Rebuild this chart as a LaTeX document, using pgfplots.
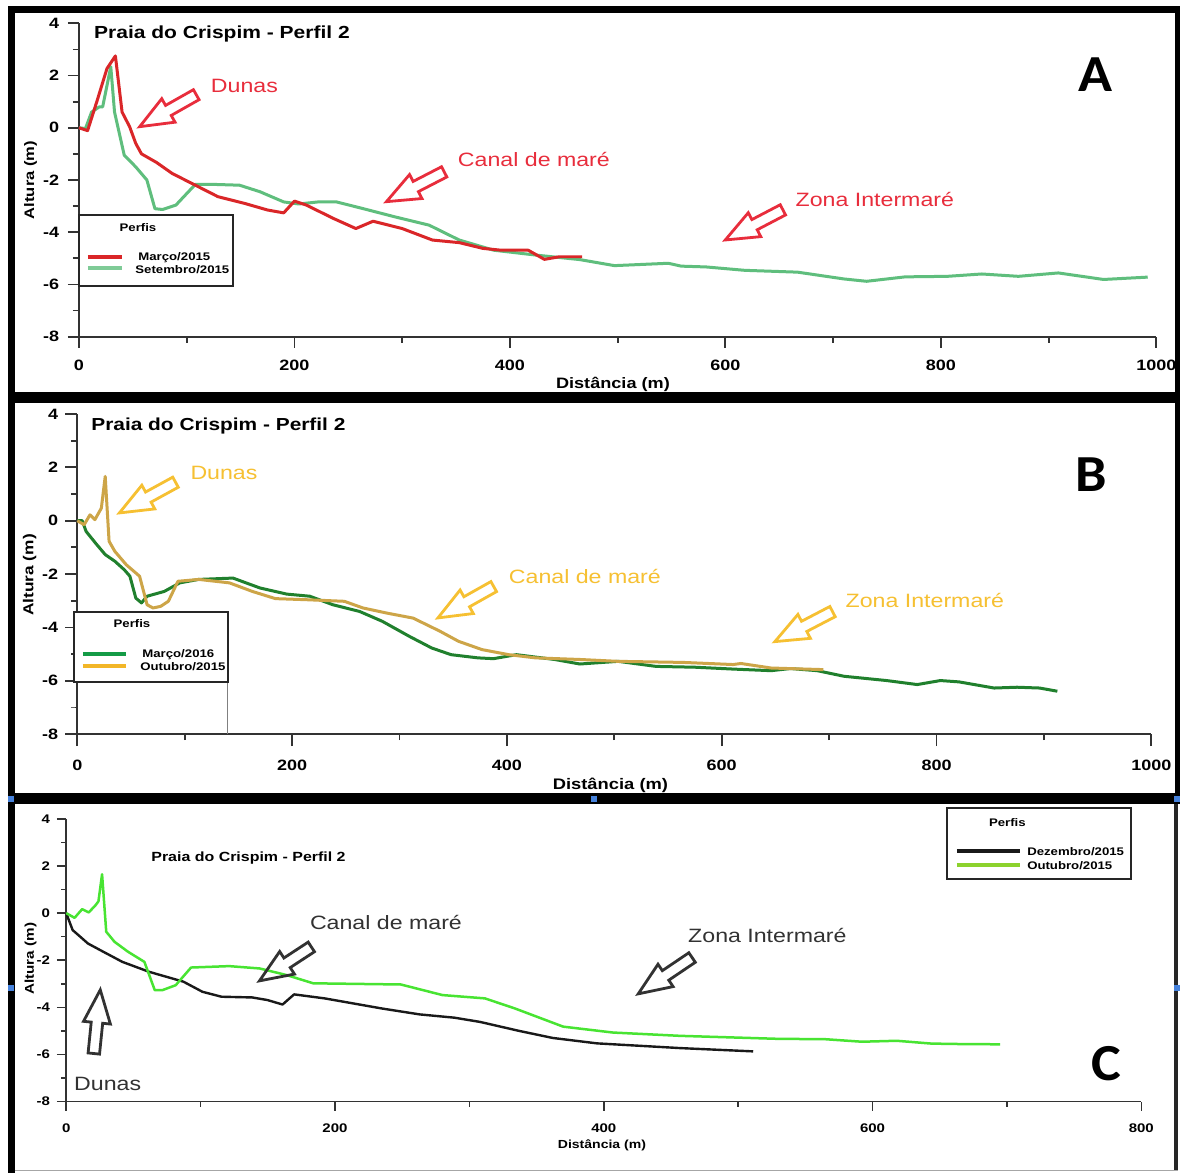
\documentclass[border=0pt]{standalone}
\usepackage{pgfplots}
\pgfplotsset{compat=1.18}
\usepackage{fontspec}
\setmainfont{Liberation Sans}[FakeStretch=1.2]
\newfontfamily\letterfont{Carlito}[FakeStretch=1.08]

\definecolor{redA}{RGB}{218,38,40}
\definecolor{greenA}{RGB}{95,190,125}
\definecolor{redtxt}{RGB}{232,45,60}
\definecolor{greenB}{RGB}{32,128,45}
\definecolor{greenBleg}{RGB}{20,155,70}
\definecolor{goldB}{RGB}{205,165,72}
\definecolor{goldBleg}{RGB}{242,182,40}
\definecolor{goldtxt}{RGB}{246,192,50}
\definecolor{greenC}{RGB}{72,228,50}
\definecolor{greenCleg}{RGB}{140,210,45}
\definecolor{blackC}{RGB}{25,25,25}
\definecolor{graytxt}{RGB}{50,50,50}
\definecolor{handle}{RGB}{70,130,220}

\newcommand{\fs}[1]{\fontsize{#1pt}{#1pt}\selectfont}
% block arrow: color, tip x, tip y (px), angle, length (px)
\newcommand{\barrow}[5]{%
  \begin{scope}[shift={(#2,#3)}, rotate=#4]
    \draw[#1, line width=1.4pt, line join=miter]
      (0,0) -- (-33,13.5) -- (-33,5.75) -- (-#5,5.75) -- (-#5,-5.75)
      -- (-33,-5.75) -- (-33,-13.5) -- cycle;
  \end{scope}}

\pgfplotsset{
  panel/.style={
    scale only axis, enlargelimits=false, clip=false,
    axis x line*=bottom, axis y line*=left,
    axis line style={line width=0.9pt, draw=black!80},
    tick style={line width=0.9pt, black!80},
    tick align=outside, major tick length=5.5pt, minor tick length=3pt,
    ymin=-8, ymax=4, ytick={-8,-6,-4,-2,0,2,4}, yticklabels={-8,-6,-4,-2,0,2,4},
    minor ytick={-7,-5,-3,-1,1,3},
    /pgf/number format/assume math mode=true,
    every axis plot/.append style={line join=round, no marks},
  }}

\begin{document}
\begin{tikzpicture}
\begin{scope}[x=0.5pt,y=-0.5pt]
  \path[use as bounding box] (0,0) rectangle (1183,1173);
  \fill[white] (0,0) rectangle (1183,1173);
\end{scope}

% ---------------- Panel A ----------------
\begin{axis}[panel,
  at={(39.5pt,-168.35pt)}, anchor=south west,
  width=538.75pt, height=156.7pt,
  xmin=0, xmax=1000, xtick={0,200,400,600,800,1000},
  xticklabels={0,200,400,600,800,1000}, minor xtick={100,300,500,700,900},
  tick label style={font=\bfseries\fs{7.5}},
  xticklabel style={yshift=-2.65pt},
  yticklabel style={xshift=-0.9pt},
  xlabel={Distância (m)}, ylabel={Altura (m)},
  every axis x label/.style={at={(axis description cs:0.4956,-0.152)}, anchor=center, font=\bfseries\fs{7.55}},
  every axis y label/.style={at={(axis description cs:-0.0449,0.5)}, rotate=90, anchor=center, font=\bfseries\fs{6.9}},
]
\addplot[greenA, line width=1.5pt] coordinates {
(0,0) (6,-0.03) (11.7,0.6) (18.9,0.8) (22,0.8) (29.5,2.34) (33,0.6) (42,-1.05)
(52.7,-1.5) (63,-2.0) (70.5,-3.1) (77.6,-3.13) (90,-2.96) (108,-2.17) (125.6,-2.17)
(149,-2.2) (168,-2.45) (190,-2.84) (204,-2.92) (222,-2.84) (239,-2.84) (264,-3.1)
(293,-3.41) (325,-3.73) (353,-4.3) (385,-4.69) (425,-4.88) (465,-5.05) (497,-5.28)
(547,-5.19) (559,-5.3) (582,-5.33) (618,-5.46) (667,-5.53) (710,-5.79) (731,-5.88)
(767,-5.71) (806,-5.69) (838,-5.6) (872,-5.69) (909,-5.56) (951,-5.81) (992,-5.72)};
\addplot[redA, line width=1.5pt] coordinates {
(0,0) (8,-0.11) (17,1.06) (26,2.27) (33.8,2.75) (40,0.6) (47,0.04) (52.7,-0.6)
(58,-1.0) (72,-1.33) (86.5,-1.75) (108,-2.2) (129,-2.64) (154,-2.9) (175,-3.15)
(190,-3.26) (200,-2.81) (211,-2.96) (236,-3.47) (257,-3.86) (273,-3.58) (300,-3.86)
(328,-4.3) (353,-4.4) (375,-4.62) (392,-4.69) (417,-4.69) (432,-5.04) (446,-4.94) (467,-4.94)};
\end{axis}

% ---------------- Panel B ----------------
\begin{axis}[panel,
  at={(38.65pt,-367.15pt)}, anchor=south west,
  width=537.1pt, height=160.15pt,
  major tick length=6pt,
  xmin=0, xmax=1000, xtick={0,200,400,600,800,1000},
  xticklabels={0,200,400,600,800,1000}, minor xtick={100,300,500,700,900},
  tick label style={font=\bfseries\fs{7.5}},
  xticklabel style={yshift=-3.35pt},
  xlabel={Distância (m)}, ylabel={Altura (m)},
  every axis x label/.style={at={(axis description cs:0.4964,-0.1583)}, anchor=center, font=\bfseries\fs{7.65}},
  every axis y label/.style={at={(axis description cs:-0.0443,0.4974)}, rotate=90, anchor=center, font=\bfseries\fs{7.2}},
]
\addplot[greenB, line width=1.5pt] coordinates {
(0,0) (4.6,0) (8.2,-0.4) (17,-0.84) (26,-1.27) (35,-1.52) (43.8,-1.84) (49,-2.08)
(54.5,-2.9) (59.8,-3.08) (65,-2.83) (81,-2.65) (95.4,-2.33) (113,-2.2) (145,-2.15)
(170,-2.52) (195,-2.75) (216.5,-2.83) (238,-3.15) (262.8,-3.4) (284,-3.77) (309,-4.33)
(330,-4.77) (348,-5.02) (373,-5.14) (387.5,-5.17) (408.8,-5.02) (444.4,-5.2) (467.9,-5.37)
(503.6,-5.27) (539,-5.46) (575,-5.49) (610.7,-5.56) (646,-5.62) (664,-5.54) (689,-5.62)
(714,-5.83) (753.6,-5.99) (782,-6.14) (803.6,-5.99) (821,-6.04) (853.6,-6.27) (875,-6.24)
(896,-6.27) (912.5,-6.39)};
\addplot[goldB, line width=1.5pt] coordinates {
(0,0) (6.4,-0.15) (11.8,0.22) (16.4,0.04) (22.4,0.47) (26,1.66) (29.6,-0.77) (35,-1.15)
(45.6,-1.65) (58,-2.08) (65,-3.15) (70.5,-3.27) (77.6,-3.21) (84.8,-3.02) (93.7,-2.27)
(113,-2.2) (141.7,-2.33) (163,-2.65) (184.5,-2.92) (213,-2.96) (248.6,-3.02) (266,-3.27)
(288,-3.46) (312.7,-3.65) (337.6,-4.14) (355,-4.52) (376.8,-4.83) (401.7,-5.02) (426.6,-5.14)
(468,-5.2) (503.6,-5.27) (564,-5.31) (610.7,-5.39) (617.8,-5.35) (646,-5.52) (694.6,-5.58)};
\end{axis}

% ---------------- Panel C ----------------
\begin{axis}[panel,
  at={(33.1pt,-550.85pt)}, anchor=south west,
  width=537.65pt, height=141.35pt,
  major tick length=4.6pt, minor tick length=2.5pt,
  axis line style={line width=0.8pt, draw=black!80},
  tick style={line width=0.8pt, black!80},
  xmin=0, xmax=800, xtick={0,200,400,600,800},
  xticklabels={0,200,400,600,800}, minor xtick={100,300,500,700},
  tick label style={font=\bfseries\fs{6.25}},
  xticklabel style={yshift=-3.07pt},
  xlabel={Distância (m)}, ylabel={Altura (m)},
  every axis x label/.style={at={(axis description cs:0.4983,-0.1532)}, anchor=center, font=\bfseries\fs{5.85}},
  every axis y label/.style={at={(axis description cs:-0.0331,0.5048)}, rotate=90, anchor=center, font=\bfseries\fs{6.35}},
]
\addplot[blackC, line width=1.2pt] coordinates {
(0,0) (4.8,-0.72) (16.2,-1.29) (27.6,-1.64) (41.8,-2.07) (61.6,-2.49) (87.2,-2.91)
(101.4,-3.34) (115.6,-3.55) (138.4,-3.58) (149.7,-3.69) (161,-3.88) (169.6,-3.45)
(192.3,-3.62) (235,-4.05) (263,-4.3) (289,-4.44) (308,-4.62) (337,-5.0) (362,-5.3)
(395,-5.53) (456.7,-5.73) (511.2,-5.87)};
\addplot[greenC, line width=1.25pt] coordinates {
(0,0) (6.25,-0.2) (11.9,0.17) (16.8,0.03) (21.9,0.34) (24,0.5) (26.7,1.65) (29.8,-0.79)
(36,-1.22) (46,-1.64) (58.2,-2.07) (65.9,-3.27) (71.6,-3.27) (81.5,-3.06) (92.9,-2.31)
(121.3,-2.25) (144,-2.35) (164,-2.63) (183.8,-2.98) (249,-3.03) (280,-3.48) (311.6,-3.62)
(334,-4.05) (369.8,-4.82) (406.8,-5.07) (456.6,-5.21) (531,-5.34) (564,-5.35) (592,-5.46)
(618,-5.42) (644,-5.54) (667,-5.56) (695,-5.57)};
\end{axis}

\begin{scope}[x=0.5pt,y=-0.5pt]
  % frames
  \fill[black] (8,6) rectangle (1180,13);
  \fill[black] (8,6) rectangle (15,1173);
  \fill[black] (8,392) rectangle (1180,403);
  \fill[black] (8,793) rectangle (1180,804);
  \fill[black] (1175,6) rectangle (1180,804);
  \fill[black!85] (1174,804) rectangle (1178,1171);
  \draw[black!35, line width=0.5pt] (15,1171) -- (1178,1171);
  % selection handles
  \foreach \hx/\hy in {11/799, 594/799, 1177/799, 11/988, 1177/988}
    \fill[handle] (\hx-3,\hy-3) rectangle (\hx+3,\hy+3);

  % ---- Panel A texts ----
  \node[anchor=base west, font=\bfseries\fs{8.75}, inner sep=0] at (93.8,39) {Praia do Crispim - Perfil 2};
  \node[anchor=base, font=\letterfont\bfseries\fs{26}, inner sep=0] at (1095.7,91.7) {A};
  \node[anchor=base, text=redtxt, font=\fs{9.65}, inner sep=0] at (244.5,93) {Dunas};
  \node[anchor=base, text=redtxt, font=\fs{9.65}, inner sep=0] at (534,166.7) {Canal de maré};
  \node[anchor=base, text=redtxt, font=\fs{9.65}, inner sep=0] at (875,207) {Zona Intermaré};
  \barrow{redtxt}{139.7}{126.7}{209.5}{65}
  \barrow{redtxt}{386.5}{201.7}{207.3}{65}
  \barrow{redtxt}{725.4}{240}{207.6}{65}
  % legend A
  \draw[black!85, line width=1.25pt, fill=white] (79,215) rectangle (233,286);
  \node[anchor=base, font=\bfseries\fs{5.5}, inner sep=0] at (138,231.7) {Perfis};
  \draw[redA, line width=2pt] (88,257) -- (122,257);
  \node[anchor=base west, font=\bfseries\fs{5.5}, inner sep=0] at (138,261) {Março/2015};
  \draw[greenA!80, line width=2pt] (88,268) -- (122,268);
  \node[anchor=base west, font=\bfseries\fs{5.5}, inner sep=0] at (135,274) {Setembro/2015};

  % ---- Panel B texts ----
  \node[anchor=base west, font=\bfseries\fs{8.7}, inner sep=0] at (91,431) {Praia do Crispim - Perfil 2};
  \node[anchor=base, font=\letterfont\bfseries\fs{26}, inner sep=0] at (1091,491.7) {B};
  \node[anchor=base, text=goldtxt, font=\fs{9.65}, inner sep=0] at (224,480) {Dunas};
  \node[anchor=base, text=goldtxt, font=\fs{9.65}, inner sep=0] at (585,584) {Canal de maré};
  \node[anchor=base, text=goldtxt, font=\fs{9.65}, inner sep=0] at (925,608) {Zona Intermaré};
  \barrow{goldtxt}{119.4}{513}{208.7}{64}
  \barrow{goldtxt}{438}{618}{209.3}{64}
  \barrow{goldtxt}{775}{641.7}{207.5}{65}
  % legend B
  \draw[black!50, line width=0.5pt] (228,682) -- (228,734);
  \draw[black!60, line width=0.5pt] (71,708) -- (75,708);
  \draw[black!85, line width=1.25pt, fill=white] (74,612) rectangle (228,682);
  \node[anchor=base, font=\bfseries\fs{5.5}, inner sep=0] at (132,628) {Perfis};
  \draw[greenBleg, line width=2pt] (83,654) -- (126,654);
  \node[anchor=base west, font=\bfseries\fs{5.5}, inner sep=0] at (142,658) {Março/2016};
  \draw[goldBleg, line width=2pt] (83,666) -- (126,666);
  \node[anchor=base west, font=\bfseries\fs{5.5}, inner sep=0] at (140,671) {Outubro/2015};

  % ---- Panel C texts ----
  \node[anchor=base west, font=\bfseries\fs{6.65}, inner sep=0] at (151,862) {Praia do Crispim - Perfil 2};
  \node[anchor=base, font=\letterfont\bfseries\fs{26}, inner sep=0] at (1107,1081) {C};
  \node[anchor=base, text=graytxt, font=\fs{9.65}, inner sep=0] at (107.7,1091) {Dunas};
  \node[anchor=base, text=graytxt, font=\fs{9.65}, inner sep=0] at (386,930) {Canal de maré};
  \node[anchor=base, text=graytxt, font=\fs{9.65}, inner sep=0] at (767.5,943) {Zona Intermaré};
  \barrow{graytxt}{100.3}{990}{84.2}{64}
  \barrow{graytxt}{259.5}{981}{213.2}{62}
  \barrow{graytxt}{638.3}{994}{214}{65}
  % legend C
  \draw[black!85, line width=1.25pt, fill=white] (947,808) rectangle (1131,879);
  \node[anchor=base, font=\bfseries\fs{5.5}, inner sep=0] at (1007.5,826.7) {Perfis};
  \draw[blackC, line width=2pt] (957,851) -- (1020,851);
  \node[anchor=base west, font=\bfseries\fs{5.5}, inner sep=0] at (1027,856) {Dezembro/2015};
  \draw[greenCleg, line width=2pt] (957,865) -- (1020,865);
  \node[anchor=base west, font=\bfseries\fs{5.5}, inner sep=0] at (1027,870) {Outubro/2015};
\end{scope}
\end{tikzpicture}
\end{document}
